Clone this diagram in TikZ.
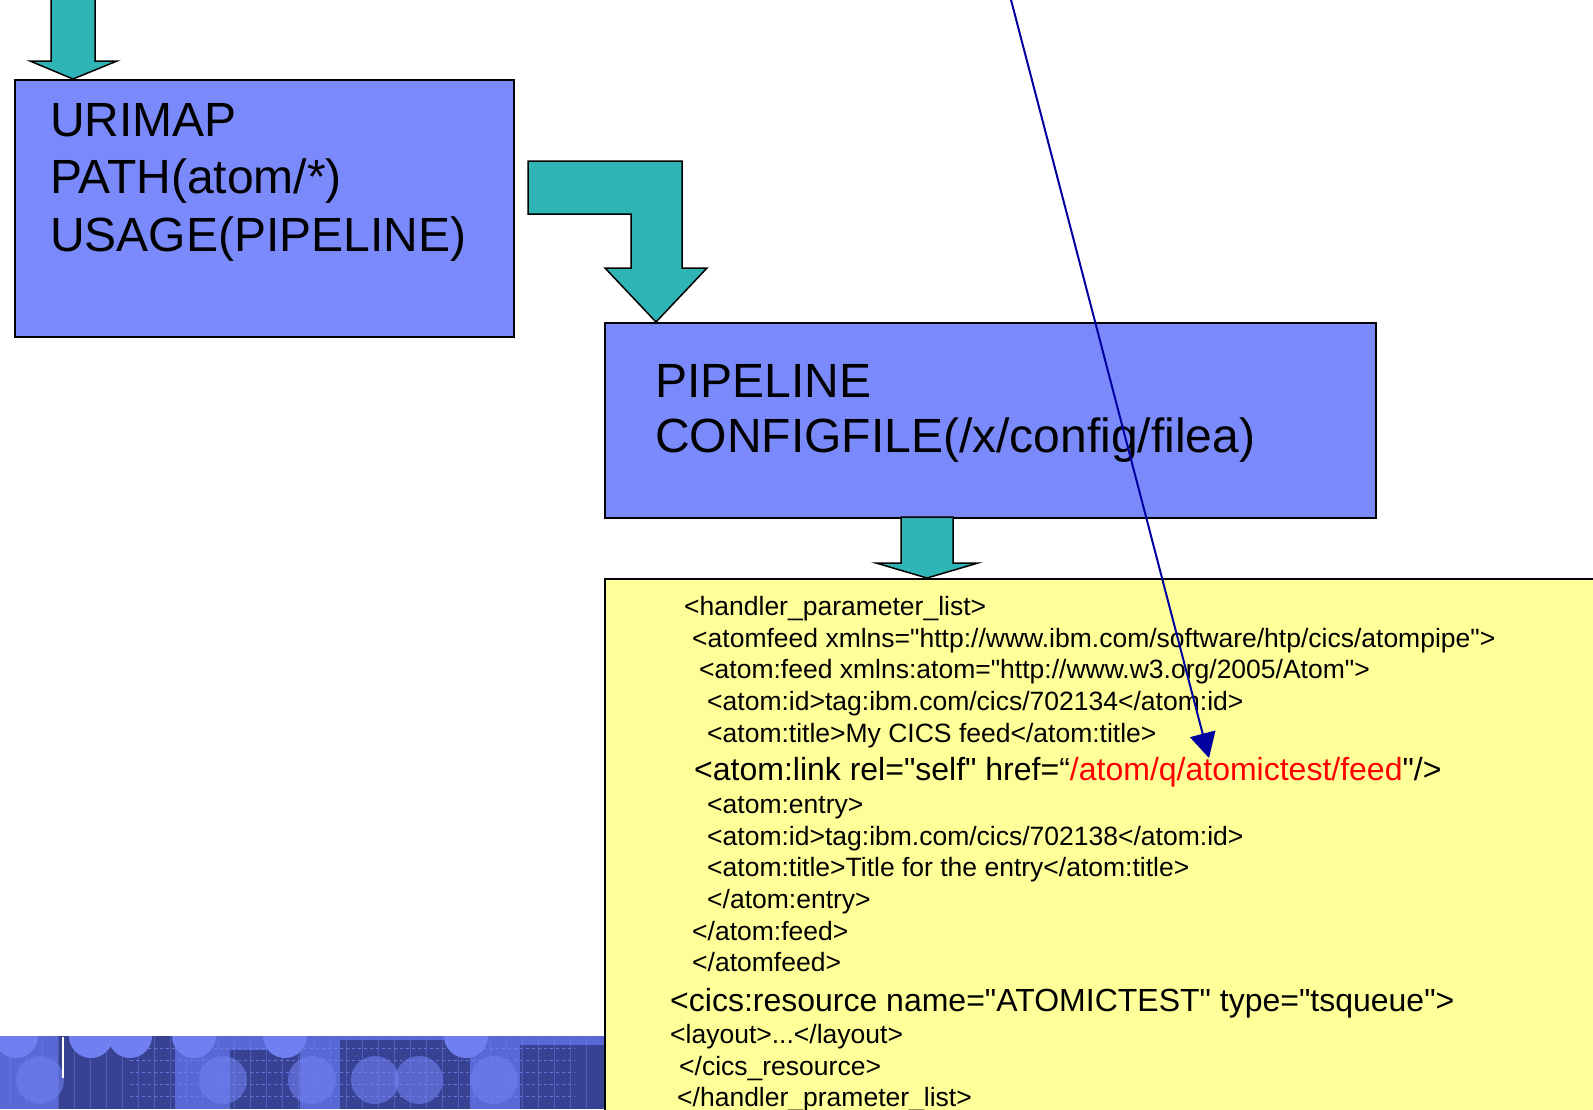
\documentclass[tikz,border=0pt]{standalone}
\usepackage{fontspec}
\setmainfont{Liberation Sans}[Ligatures=TeXOff]
\usetikzlibrary{arrows.meta}

\definecolor{boxblue}{RGB}{122,138,250}
\definecolor{arrowteal}{RGB}{47,181,181}
\definecolor{xmlyellow}{RGB}{255,255,153}
\definecolor{linkblue}{RGB}{0,0,160}
\definecolor{bannerbase}{RGB}{88,104,212}
\definecolor{bannerdark}{RGB}{56,66,146}
\definecolor{bannerlight}{RGB}{112,128,240}

\tikzset{
	resbox/.style={draw=black, line width=1.5pt, fill=boxblue, anchor=north west, inner sep=0pt},
	xmlbox/.style={draw=black, line width=1.5pt, fill=xmlyellow, anchor=north west, inner sep=0pt},
	blockarrow/.style={fill=arrowteal, draw=black, line width=1.5pt, line join=miter},
	bigtext/.style={anchor=base west, inner sep=0pt, font=\fontsize{48}{56}\selectfont},
	xmlsmall/.style={anchor=base west, inner sep=0pt, font=\fontsize{26.5}{30}\selectfont},
	xmlbig/.style={anchor=base west, inner sep=0pt, font=\fontsize{32}{36}\selectfont},
	linkarrow/.style={draw=linkblue, line width=2pt, -{Triangle[length=25pt, width=26pt]}}
}

\begin{document}
\begin{tikzpicture}[x=1pt, y=-1pt]
			\useasboundingbox (0,0) rectangle (1593,1109);
			\clip (0,0) rectangle (1593,1109);

			\begin{scope}
				\clip (0,1036) rectangle (604,1109);
				\fill [bannerbase] (0,1036) rectangle (604,1109);
				\fill [bannerdark] (58,1036) rectangle (175,1109);
				\fill [bannerdark] (230,1050) rectangle (300,1109);
				\fill [bannerdark] (340,1040) rectangle (470,1109);
				\fill [bannerdark] (520,1045) rectangle (604,1109);
				\foreach \cx in {16,91,130,194,285,466}
					\fill [bannerlight] (\cx,1036) circle (22);
				\foreach \cx in {40,223,312,375,419,494}
					\fill [bannerlight, opacity=0.6] (\cx,1080) circle (24);
				\foreach \gx in {10,26,...,600}
					\draw [bannerlight, line width=0.6pt, opacity=0.4] (\gx,1036) -- (\gx,1109);
				\foreach \gy in {1048,1060,...,1100}
					\draw [bannerlight, dashed, line width=1pt, opacity=0.8] (130,\gy) -- (575,\gy);
				\draw [white, line width=2pt] (63,1037) -- (63,1078);
			\end{scope}

			\node [resbox, minimum width=499pt, minimum height=257pt] (urimap) at (14,79) {};
			\node [resbox, minimum width=771pt, minimum height=195pt] (pipeline) at (604,322) {};
			\node [xmlbox, minimum width=1010pt, minimum height=560pt] (configfile) at (604,578) {};

			\draw [blockarrow] ([xshift=59pt]urimap.north west) -- ++(44,-18) -- ++(-22,0)
				-- ++(0,-70) -- ++(-44,0) -- ++(0,70) -- ++(-21,0) -- cycle;
			\draw [blockarrow] ([xshift=52pt]pipeline.north west) -- ++(51,-54) -- ++(-25,0)
				-- ++(0,-107) -- ++(-154,0) -- ++(0,53) -- ++(103,0) -- ++(0,54) -- ++(-26,0) -- cycle;
			\draw [blockarrow] ([xshift=323pt]configfile.north west) -- ++(51,-15) -- ++(-25,0)
				-- ++(0,-46) -- ++(-52,0) -- ++(0,46) -- ++(-25,0) -- cycle;

			\node [bigtext] (uriname) at (50,136) {URIMAP};
			\node [bigtext] (uripath) at (50,193) {PATH(atom/*)};
			\node [bigtext] (uriusage) at (50,251) {USAGE(PIPELINE)};
			\node [bigtext] (pipename) at (655,397) {PIPELINE};
			\node [bigtext] (pipeconfig) at (655,452) {CONFIGFILE(/x/config/filea)};

			\node [xmlsmall] (handleropen) at (684,615) {<handler\_parameter\_list>};
			\node [xmlsmall] (feedopen) at (692,647) {<atomfeed xmlns="http://www.ibm.com/software/htp/cics/atompipe">};
			\node [xmlsmall] (atomfeedopen) at (699,678) {<atom:feed xmlns:atom="http://www.w3.org/2005/Atom">};
			\node [xmlsmall] (feedid) at (707,710) {<atom:id>tag:ibm.com/cics/702134</atom:id>};
			\node [xmlsmall] (feedtitle) at (707,742) {<atom:title>My CICS feed</atom:title>};
			\node [xmlbig] (feedlink) at (694,780) {<atom:link rel="self" href=“\textcolor{red}{/atom/q/atomictest/feed}"/>};
			\node [xmlsmall] (entryopen) at (707,813) {<atom:entry>};
			\node [xmlsmall] (entryid) at (707,845) {<atom:id>tag:ibm.com/cics/702138</atom:id>};
			\node [xmlsmall] (entrytitle) at (707,876) {<atom:title>Title for the entry</atom:title>};
			\node [xmlsmall] (entryclose) at (707,908) {</atom:entry>};
			\node [xmlsmall] (atomfeedclose) at (692,940) {</atom:feed>};
			\node [xmlsmall] (feedclose) at (692,971) {</atomfeed>};
			\node [xmlbig] (resourceopen) at (670,1011) {<cics:resource name="ATOMICTEST" type="tsqueue">};
			\node [xmlsmall] (layout) at (670,1043) {<layout>...</layout>};
			\node [xmlsmall] (resourceclose) at (679,1075) {</cics\_resource>};
			\node [xmlsmall] (handlerclose) at (677,1106) {</handler\_prameter\_list>};

			\coordinate (linkfrom) at (1010,-4);
			\coordinate (linkto) at (1209,758);
			\draw [linkarrow] (linkfrom) -- (linkto);
		\end{tikzpicture}
\end{document}
